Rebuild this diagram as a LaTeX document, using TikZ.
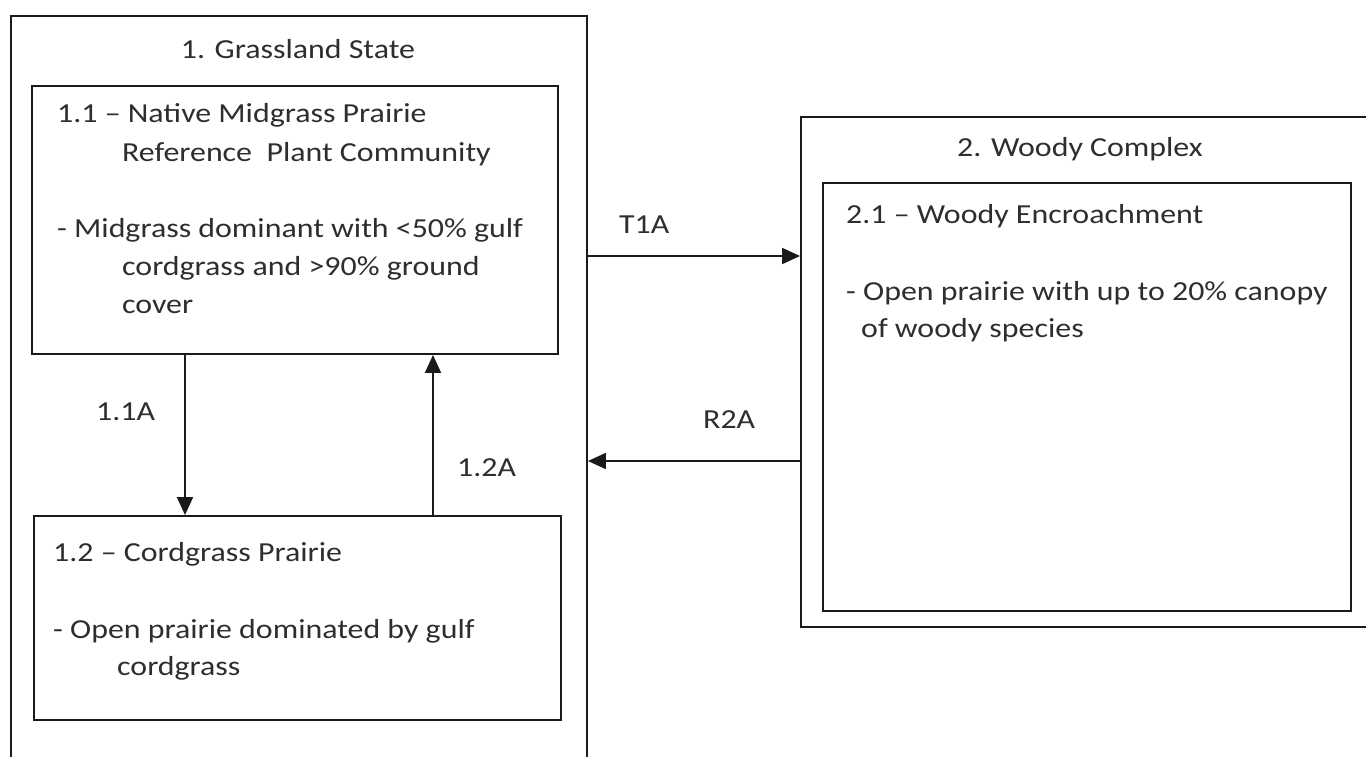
\documentclass[tikz,border=0pt]{standalone}
\usepackage{fontspec}
\setmainfont{Carlito}[FakeStretch=1.16]
\usetikzlibrary{arrows.meta}
\definecolor{ln}{HTML}{1A1A1A}
\definecolor{tx}{HTML}{2E2E2E}
\tikzset{
  box/.style={draw=ln, line width=1.9pt, rectangle, inner sep=0pt},
  lbl/.style={anchor=base west, inner sep=0pt, text=tx, font=\fontsize{27.5}{32}\selectfont},
  ttl/.style={anchor=base, inner sep=0pt, text=tx, font=\fontsize{27.5}{32}\selectfont},
  arr/.style={draw=ln, line width=1.9pt, -{Triangle[length=18pt,width=16pt]}}
}
\begin{document}
\begin{tikzpicture}[x=1pt,y=-1pt]
\useasboundingbox[fill=white] (0,0) rectangle (1366,756);
% outer state boxes
\node[box, minimum width=576pt, minimum height=764pt] (g) at (299,398) {};
\node[box, minimum width=590pt, minimum height=510pt] (w) at (1096,372) {};
% community boxes
\node[box, minimum width=526pt, minimum height=268pt] (c11) at (295,220) {};
\node[box, minimum width=527pt, minimum height=204pt] (c12) at (297.5,618) {};
\node[box, minimum width=528pt, minimum height=428pt] (c21) at (1087,397) {};
% titles
\node[ttl] (tg) at (298,58) {1. Grassland State};
\node[ttl] (tw) at (1080,156) {2. Woody Complex};
% 1.1 text
\node[lbl] (a1) at (57,122) {1.1 – Native Midgrass Prairie};
\node[lbl] (a2) at (122,161) {Reference\ \ Plant Community};
\node[lbl] (a3) at (57,237) {- Midgrass dominant with <50\% gulf};
\node[lbl] (a4) at (122,275) {cordgrass and >90\% ground};
\node[lbl] (a5) at (122,313) {cover};
% 1.2 text
\node[lbl] (b1) at (53,561) {1.2 – Cordgrass Prairie};
\node[lbl] (b2) at (53,638) {- Open prairie dominated by gulf};
\node[lbl] (b3) at (117,675) {cordgrass};
% 2.1 text
\node[lbl] (d1) at (846,223) {2.1 – Woody Encroachment};
\node[lbl] (d2) at (846,300) {- Open prairie with up to 20\% canopy};
\node[lbl] (d3) at (861,337) {of woody species};
% transition labels
\node[lbl] (l11) at (96,420) {1.1A};
\node[lbl] (l12) at (457,476) {1.2A};
\node[lbl] (lt) at (619,233) {T1A};
\node[lbl] (lr) at (703,428) {R2A};
% connectors
\coordinate (xa) at (185,0);
\coordinate (xb) at (433,0);
\coordinate (yt) at (0,256);
\coordinate (yr) at (0,461);
\draw[arr] (c11.south -| xa) -- (c12.north -| xa);
\draw[arr] (c12.north -| xb) -- (c11.south -| xb);
\draw[arr] (g.east |- yt) -- (w.west |- yt);
\draw[arr] (w.west |- yr) -- (g.east |- yr);
\end{tikzpicture}
\end{document}
